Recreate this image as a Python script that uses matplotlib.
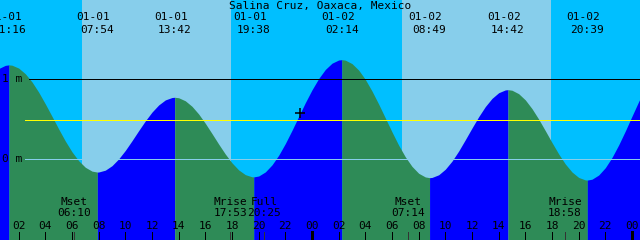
#!/usr/bin/env python
# Tide graph for Salina Cruz, Oaxaca, Mexico (two days, XTide style)

import numpy as np
import matplotlib
matplotlib.use("Agg")
import matplotlib.pyplot as plt

######################
# Data
######################

title = "Salina Cruz, Oaxaca, Mexico"

# water level [m] sampled every half hour, hour 0 = 01-01 00:00
hours = [0.5 * i for i in range(99)]
level = [1.057, 1.134, 1.174, 1.176, 1.140, 1.069, 0.967, 0.839, 0.692, 0.537,
         0.379, 0.228, 0.093, -0.018, -0.100, -0.148, -0.159, -0.136, -0.080, 0.005,
         0.111, 0.232, 0.358, 0.480, 0.590, 0.679, 0.742, 0.772, 0.769, 0.731,
         0.662, 0.566, 0.449, 0.321, 0.190, 0.065, -0.045, -0.133, -0.192, -0.219,
         -0.209, -0.158, -0.070, 0.050, 0.197, 0.362, 0.535, 0.708, 0.868, 1.009,
         1.123, 1.201, 1.241, 1.239, 1.196, 1.115, 0.998, 0.853, 0.690, 0.516,
         0.342, 0.176, 0.030, -0.089, -0.175, -0.221, -0.227, -0.194, -0.124, -0.023,
         0.103, 0.245, 0.391, 0.532, 0.659, 0.761, 0.832, 0.867, 0.863, 0.820,
         0.742, 0.633, 0.502, 0.357, 0.209, 0.067, -0.059, -0.159, -0.227, -0.258,
         -0.249, -0.197, -0.105, 0.023, 0.179, 0.354, 0.539, 0.722, 0.894]

# high / low tides
tide_dates = ["01-01", "01-01", "01-01", "01-01", "01-02", "01-02", "01-02", "01-02"]
tide_times = ["01:16", "07:54", "13:42", "19:38", "02:14", "08:49", "14:42", "20:39"]
tide_level = [1.18, -0.16, 0.775, -0.22, 1.245, -0.23, 0.87, -0.26]

# sun rise / set (day background)
sunrise = ["01-01 06:45", "01-02 06:45"]
sunset = ["01-01 17:56", "01-02 17:56"]

# moon events
moon_names = ["Mset", "Mrise", "Full", "Mset", "Mrise"]
moon_dates = ["01-01", "01-01", "01-01", "01-02", "01-02"]
moon_times = ["06:10", "17:53", "20:25", "07:14", "18:58"]

mean_level = 0.49         # yellow line
now_time = "01-01 23:06"  # "+" marker
now_level = 0.575

def to_hours(date, hm):
    """ hours since 01-01 00:00 """
    day = int(date.split("-")[1]) - 1
    hh, mm = hm.split(":")
    return 24 * day + int(hh) + int(mm) / 60.0

# colours
night = "#00BFFF"
day = "#87CEEB"
rise = "#0000FF"
fall = "#2E8B57"

font = dict(family="DejaVu Sans Mono", size=8, color="black")
onepx = 0.72  # one pixel in points at 100 dpi

######################
# Figure: one axes filling the whole 640x240 picture
######################

fig = plt.figure(figsize=(6.4, 2.4), dpi=100)
ax = fig.add_axes([0, 0, 1, 1])
x0, x1 = 0.6, 48.6
ylo, yhi = -1.009, 1.991
ax.set_xlim(x0, x1)
ax.set_ylim(ylo, yhi)
ax.axis("off")
fig.patch.set_facecolor(night)

# day bands
for a, b in zip(sunrise, sunset):
    ax.axvspan(to_hours(*a.split()), to_hours(*b.split()), color=day, lw=0)

# tide curve, blue when rising and green when falling
ext_t = [to_hours(d, t) for d, t in zip(tide_dates, tide_times)]
t_all = np.array(hours + ext_t, dtype=float)
h_all = np.array(level + tide_level)
order = np.argsort(t_all)
t_all, h_all = t_all[order], h_all[order]

bounds = [hours[0]] + ext_t + [hours[-1]]
for a, b in zip(bounds[:-1], bounds[1:]):
    m = (t_all >= a) & (t_all <= b)
    col = rise if h_all[m][-1] > h_all[m][0] else fall
    ax.fill_between(t_all[m], ylo, h_all[m], color=col, lw=0, antialiased=False)

# level lines
px = (x1 - x0) / 640.0   # hours per pixel
ax.plot([x0 + 29 * px, x1], [1, 1], color="black", lw=onepx, antialiased=False)
ax.plot([x0 + 25 * px, x1], [mean_level, mean_level], color="#FFFF00",
        lw=onepx, antialiased=False)
ax.plot([x0 + 25 * px, x1], [0, 0], color=day, lw=onepx, antialiased=False)
ax.text(x0 + 2 * px, 1, "1 m", ha="left", va="center", zorder=5, **font)
ax.text(x0 + 2 * px, 0, "0 m", ha="left", va="center", zorder=5, **font)

# "now" marker
ax.plot([to_hours(*now_time.split())], [now_level], marker="+", color="black",
        ms=7, mew=1.1)

# labels of highs and lows at the top
ax.text((x0 + x1) / 2, 1.916, title, ha="center", va="center", **font)
for tx, d, t in zip(ext_t, tide_dates, tide_times):
    ax.text(tx - 4 * px, 1.7725, d, ha="center", va="center", **font)
    ax.text(tx, 1.616, t, ha="center", va="center", **font)

# moon events
for n, d, t in zip(moon_names, moon_dates, moon_times):
    mx = to_hours(d, t)
    ax.text(mx, -0.53, n, ha="center", va="center", **font)
    ax.text(mx, -0.675, t, ha="center", va="center", **font)
    ax.plot([mx, mx], [-0.909, ylo], color="#333333", lw=onepx, antialiased=False)

# hour ticks along the bottom
for hr in range(2, 49, 2):
    ax.text(hr, -0.83, "%02d" % (hr % 24), ha="center", va="center", **font)
    ax.plot([hr, hr], [-0.909, ylo], color="black", antialiased=False,
            lw=3 * onepx if hr % 24 == 0 else onepx)

fig.savefig("out.png", dpi=100, facecolor=night)
